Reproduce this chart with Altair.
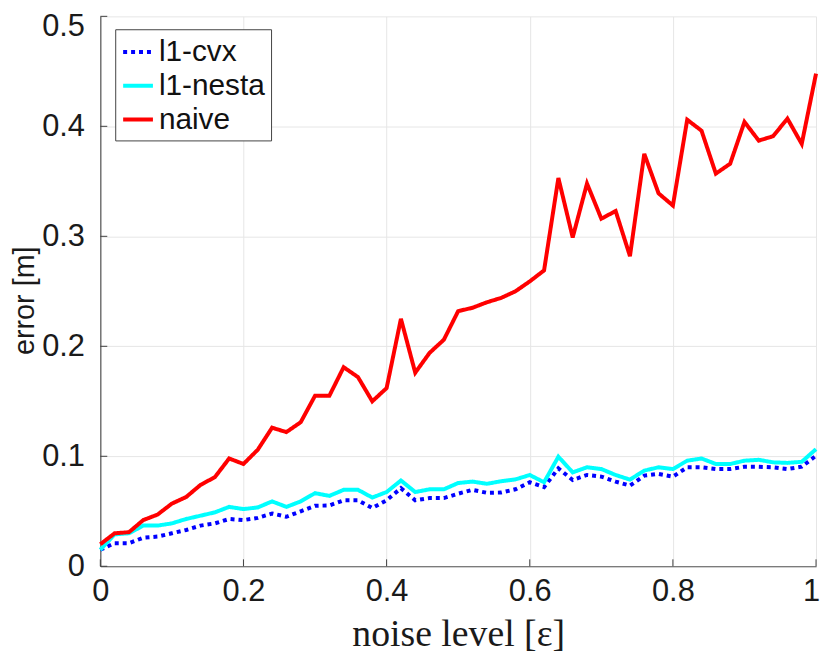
import altair as alt
import pandas as pd

noise = [round(0.02 * i, 2) for i in range(51)]

naive = [0.020, 0.030, 0.031, 0.042, 0.047, 0.057, 0.063, 0.074, 0.081, 0.098,
         0.093, 0.106, 0.126, 0.122, 0.131, 0.155, 0.155, 0.181, 0.172, 0.150,
         0.162, 0.225, 0.176, 0.194, 0.206, 0.232, 0.235, 0.240, 0.244, 0.250,
         0.259, 0.269, 0.353, 0.299, 0.348, 0.316, 0.323, 0.282, 0.375, 0.339,
         0.328, 0.406, 0.396, 0.357, 0.366, 0.404, 0.387, 0.391, 0.407, 0.384,
         0.448]

nesta = [0.015, 0.029, 0.030, 0.037, 0.037, 0.039, 0.043, 0.046, 0.049, 0.054,
         0.052, 0.0535, 0.059, 0.054, 0.059, 0.0665, 0.064, 0.0695, 0.0695, 0.0625,
         0.0675, 0.078, 0.0675, 0.070, 0.070, 0.0757, 0.077, 0.075, 0.0773, 0.079,
         0.083, 0.0764, 0.0996, 0.0854, 0.090, 0.0884, 0.083, 0.0788, 0.087, 0.090,
         0.0884, 0.096, 0.098, 0.093, 0.093, 0.096, 0.0968, 0.0945, 0.094, 0.095,
         0.1065]

cvx = [0.015, 0.021, 0.021, 0.026, 0.027, 0.030, 0.033, 0.037, 0.039, 0.043,
       0.042, 0.044, 0.048, 0.045, 0.050, 0.055, 0.0553, 0.060, 0.060, 0.053,
       0.060, 0.071, 0.060, 0.062, 0.062, 0.066, 0.0695, 0.0668, 0.067, 0.070,
       0.0764, 0.072, 0.089, 0.0785, 0.083, 0.0815, 0.077, 0.0734, 0.0824, 0.084,
       0.0815, 0.090, 0.090, 0.0884, 0.0884, 0.0905, 0.0905, 0.090, 0.0884, 0.0905,
       0.1005]

series_names = ["l1-cvx", "l1-nesta", "naive"]
series_colors = ["#0000ff", "#00ffff", "#ff0000"]
series_dash = [[4, 4], [1, 0], [1, 0]]

x_ticks = [0, 0.2, 0.4, 0.6, 0.8, 1]
y_ticks = [0, 0.1, 0.2, 0.3, 0.4, 0.5]

rows = []
for name, vals in zip(series_names, [cvx, nesta, naive]):
    for i, (x, y) in enumerate(zip(noise, vals)):
        rows.append({"noise": x, "error": y, "method": name, "idx": i})
df = pd.DataFrame(rows)

W, H = 721, 554
TICK = 7
FONT = "Liberation Sans"

xscale = alt.Scale(domain=[0, 1], nice=False, zero=False)
yscale = alt.Scale(domain=[0, 0.5], nice=False, zero=False)

xaxis = alt.Axis(values=x_ticks, format="~g", title="noise level [ε]",
                 titleFont="Liberation Serif", titleFontSize=38,
                 titleFontWeight="normal", titlePadding=10, labelFlush=False,
                 labelOffset={"condition": {"test": "datum.value >= 1", "value": -5},
                              "value": 0})
yaxis = alt.Axis(values=y_ticks, format="~g", title="error [m]",
                 titleFont=FONT, titleFontSize=29,
                 titleFontWeight="normal",
                 titleX=-67, titleY=286, titleBaseline="alphabetic",
                 titleAngle=270, titleAlign="center",
                 labelOffset={"condition": {"test": "datum.value >= 0.5", "value": 10},
                              "value": 0})

legend = alt.Legend(title=None)

lines = alt.Chart(df).mark_line(strokeWidth=4, strokeCap="butt", strokeJoin="miter").encode(
    x=alt.X("noise:Q", scale=xscale, axis=xaxis),
    y=alt.Y("error:Q", scale=yscale, axis=yaxis),
    color=alt.Color("method:N",
                    scale=alt.Scale(domain=series_names, range=series_colors),
                    legend=legend),
    strokeDash=alt.StrokeDash("method:N",
                              scale=alt.Scale(domain=series_names, range=series_dash),
                              legend=legend),
    order="idx:Q",
)

ytick_df = pd.DataFrame({"error": y_ticks})
xtick_df = pd.DataFrame({"noise": x_ticks})

yticks = alt.Chart(ytick_df).mark_rule(color="#404040", strokeWidth=1).encode(
    y=alt.Y("error:Q", scale=yscale, axis=yaxis),
    x=alt.value(0),
    x2=alt.value(TICK),
)
xticks = alt.Chart(xtick_df).mark_rule(color="#404040", strokeWidth=1).encode(
    x=alt.X("noise:Q", scale=xscale, axis=xaxis),
    y=alt.value(H),
    y2=alt.value(H - TICK),
)

chart = alt.layer(lines, yticks, xticks).properties(
    width=W, height=H,
    autosize=alt.AutoSizeParams(type="none"),
    padding={"left": 93, "top": 6, "right": 6, "bottom": 90},
).configure_view(
    stroke="transparent"
).configure_axis(
    labelFont=FONT, labelFontSize=31, labelColor="#1a1a1a",
    titleColor="#1a1a1a",
    domainColor="#555555", domainWidth=1.2,
    ticks=False,
    grid=True, gridColor="#e6e6e6", gridWidth=1,
).configure_axisX(
    labelPadding=10,
).configure_axisY(
    labelPadding=16,
).configure_legend(
    orient="none", legendX=15, legendY=13,
    strokeColor="#444444", fillColor="white", padding=6,
    labelFont=FONT, labelFontSize=30, labelColor="#111111",
    symbolType="stroke", symbolSize=900, symbolStrokeWidth=4,
    rowPadding=2, labelOffset=4, cornerRadius=0,
)

chart.save("out.html", embed_options={"renderer": "svg", "actions": False})
